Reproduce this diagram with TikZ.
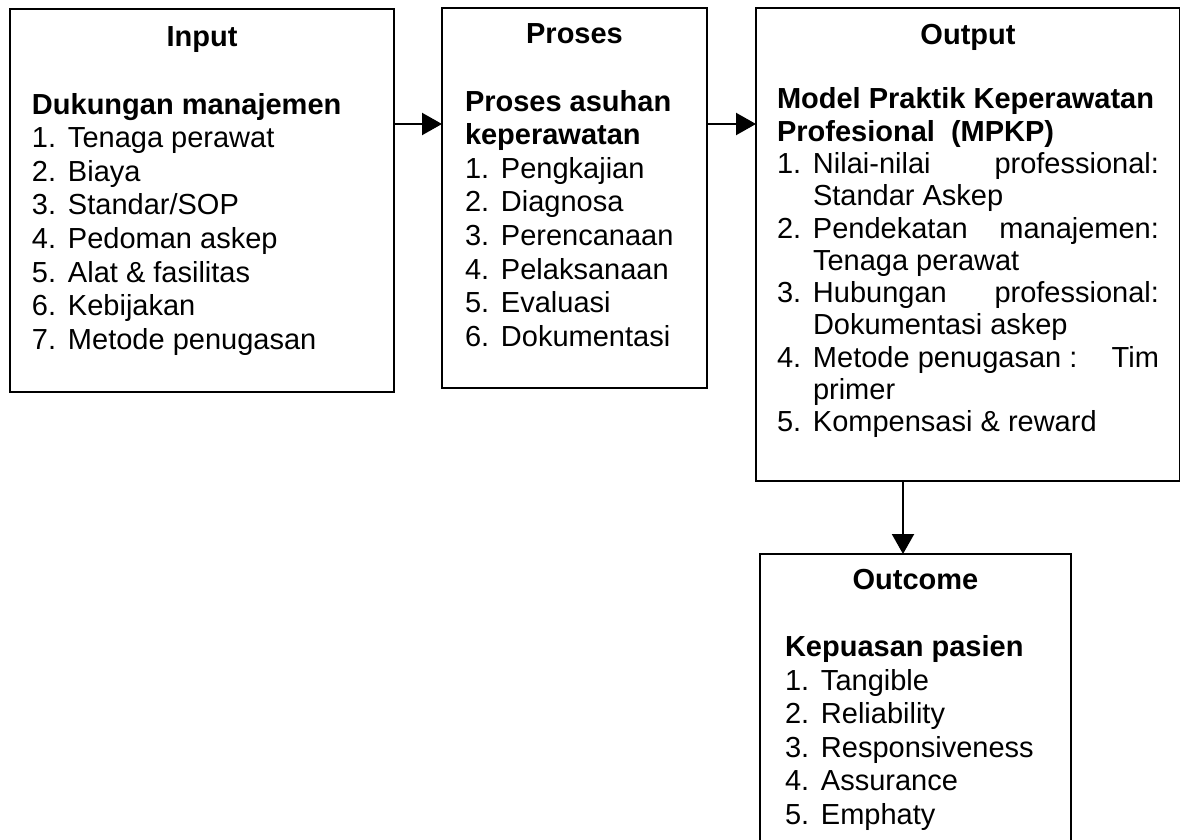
\documentclass[tikz,border=0pt]{standalone}
\usepackage{fontspec}
\setmainfont{Liberation Sans}
\usetikzlibrary{arrows.meta}

% text set up for the boxes
\newcommand{\stagefont}{\fontsize{14.5pt}{16.8pt}\selectfont\raggedright
 \hyphenpenalty=10000 \exhyphenpenalty=10000}
\newcommand{\boxhead}[2]{{\centering\bfseries #1\par}\vskip\baselineskip
 {\raggedright\bfseries #2\par}}
\newcommand{\itm}[2]{\par\hangindent=18pt\hangafter=1\noindent
 \makebox[18pt][l]{#1}#2}

\begin{document}
\begin{tikzpicture}[%
 x=0.5pt,y=-0.5pt,
 stage/.style={
 	rectangle,
 	draw,
 	line width=1.1pt,
 	anchor=north west,
 	outer sep=0pt
 },
 arrowline/.style={
 	draw,
 	line width=1.1pt,
 	-{Triangle[length=10pt,width=11pt]}
 }
 ]
 \useasboundingbox (0,0) rectangle (1180,840);
 \path (10,9) node[stage,inner xsep=11pt,inner ysep=9pt] (input)
 {\parbox[t][173.5pt][t]{170pt}{\stagefont
 \boxhead{Input}{Dukungan manajemen}
 \itm{1.}{Tenaga perawat}
 \itm{2.}{Biaya}
 \itm{3.}{Standar/SOP}
 \itm{4.}{Pedoman askep}
 \itm{5.}{Alat \& fasilitas}
 \itm{6.}{Kebijakan}
 \itm{7.}{Metode penugasan}}};
 \path (442,8) node[stage,inner xsep=11.5pt,inner ysep=8pt] (proses)
 {\parbox[t][174pt][t]{109.5pt}{\stagefont
 \boxhead{Proses}{Proses asuhan\\keperawatan}
 \itm{1.}{Pengkajian}
 \itm{2.}{Diagnosa}
 \itm{3.}{Perencanaan}
 \itm{4.}{Pelaksanaan}
 \itm{5.}{Evaluasi}
 \itm{6.}{Dokumentasi}}};
 \path (756,8) node[stage,inner xsep=10.5pt,inner ysep=8pt] (output)
 {\parbox[t][220.5pt][t]{191pt}{\stagefont
 \fontsize{14.5pt}{16.15pt}\selectfont
 \leftskip=0pt \rightskip=0pt \parfillskip=0pt plus 1fil \tolerance=9999
 \boxhead{Output}{Model Praktik Keperawatan\\Profesional\ \ (MPKP)}
 \itm{1.}{Nilai-nilai professional: Standar Askep}
 \itm{2.}{Pendekatan manajemen: Tenaga perawat}
 \itm{3.}{Hubungan professional: Dokumentasi askep}
 \itm{4.}{Metode penugasan :\hfill Tim\break primer}
 \itm{5.}{Kompensasi \& reward}}};
 \path (760,554) node[stage,inner xsep=12.5pt,inner ysep=7.5pt] (outcome)
 {\parbox[t][138pt][t]{130.5pt}{\stagefont
 \boxhead{Outcome}{Kepuasan pasien}
 \itm{1.}{Tangible}
 \itm{2.}{Reliability}
 \itm{3.}{Responsiveness}
 \itm{4.}{Assurance}
 \itm{5.}{Emphaty}}};

\coordinate (row) at (0,124);
\coordinate (drop) at (903,0);
\draw[arrowline] (input.east |- row) -- (proses.west |- row);
\draw[arrowline] (proses.east |- row) -- (output.west |- row);
\draw[arrowline] (output.south -| drop) -- (outcome.north -| drop);
 \end{tikzpicture}
\end{document}
